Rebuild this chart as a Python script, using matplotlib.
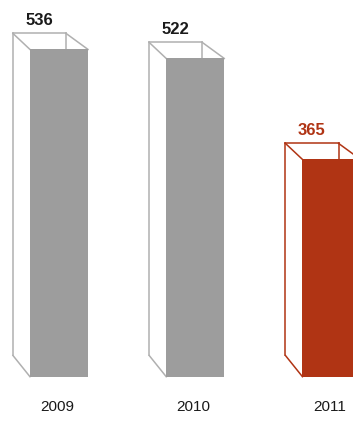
import matplotlib
matplotlib.use("Agg")
import matplotlib.pyplot as plt
from matplotlib import font_manager

# Data
years = ["2009", "2010", "2011"]
values = [536, 522, 365]
fill_colors = ["#9d9d9d", "#9d9d9d", "#b03414"]
edge_colors = ["#b0b0b0", "#b0b0b0", "#b03414"]
label_colors = ["#1a1a1a", "#1a1a1a", "#b03414"]

# Pick a condensed font if one is installed
names = {f.name for f in font_manager.fontManager.ttflist}
font = "Liberation Sans Narrow" if "Liberation Sans Narrow" in names else "Liberation Sans"

fig = plt.figure(figsize=(3.53, 4.21), dpi=100)
ax = fig.add_axes([0, 0, 1, 1])
ax.set_xlim(-0.433, 2.158)
ax.set_ylim(-41.8, 612.9)
ax.axis("off")

base = 27.1          # value at the bar floor
width = 0.426        # front face width
dl, dr = 0.125, 0.161  # back face shift (left / right corners)
dtop, dbot = 24.9, 33.0  # back face raise at top / bottom

x = list(range(len(years)))
ax.bar(x, [v - base for v in values], width=width, bottom=base,
       color=fill_colors, zorder=2)

for i, v in enumerate(values):
    fl, fr = i - width / 2, i + width / 2
    bl, br = fl - dl, fr - dr
    top_b = v + dtop
    bot_b = base + dbot
    c = edge_colors[i]
    kw = dict(color=c, lw=1.1, zorder=1, solid_capstyle="projecting")
    # back face: left, top, right edges
    ax.plot([bl, bl], [bot_b, top_b], **kw)
    ax.plot([bl, br], [top_b, top_b], **kw)
    ax.plot([br, br], [top_b, v], **kw)
    # connecting edges
    ax.plot([bl, fl], [top_b, v], **kw)
    ax.plot([br, fr], [top_b, v], **kw)
    ax.plot([bl, fl], [bot_b, base], **kw)
    # value label above back face
    ax.text((bl + br) / 2, top_b + 8, str(v), ha="center", va="bottom",
            fontsize=12, fontweight="bold", color=label_colors[i],
            family=font)
    ax.text(i - 0.015, -20, years[i], ha="center", va="center",
            fontsize=11, color="#1a1a1a", family=font)

fig.savefig("out.png", dpi=100)
